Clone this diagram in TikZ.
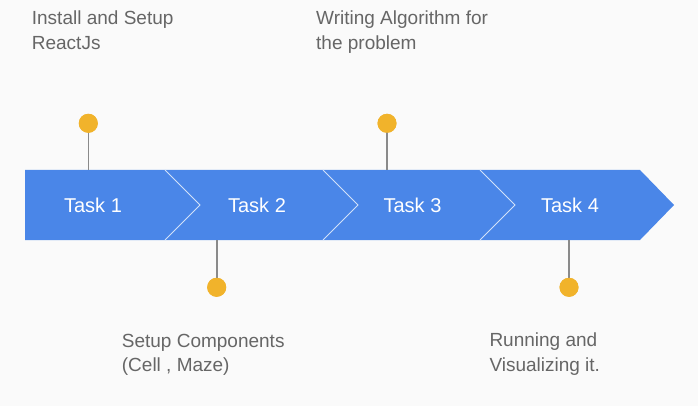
\documentclass[tikz,border=0pt]{standalone}
\usepackage{fontspec}
\setmainfont{Liberation Sans}
\definecolor{bandblue}{HTML}{4A86E8}
\definecolor{dotyellow}{HTML}{F1B32B}
\definecolor{txtgray}{HTML}{666666}
\definecolor{stemgray}{HTML}{8A8A8A}
\definecolor{bg}{HTML}{FAFAFA}
\tikzset{
  tasklabel/.style={text=white, font=\fontsize{20}{24}\selectfont, inner sep=0pt},
  desc/.style={text=txtgray, font=\fontsize{19}{24.5}\selectfont, align=left, inner sep=0pt, anchor=base west},
  dot/.style={circle, fill=dotyellow, minimum size=19pt, inner sep=0pt},
  stem/.style={draw=stemgray, line width=1.6pt},
  seam/.style={draw=white!75!bandblue, line width=0.9pt},
}
\begin{document}
\begin{tikzpicture}[x=1pt,y=-1pt]
\fill[bg] (0,0) rectangle (698,406);
\useasboundingbox (0,0) rectangle (698,406);
% band
\fill[bandblue] (25,170) -- (640,170) -- (674,205) -- (640,240) -- (25,240) -- cycle;
\draw[seam] (165,170) -- (200,205) -- (165,240);
\draw[seam] (323,170) -- (358,205) -- (323,240);
\draw[seam] (480,170) -- (515,205) -- (480,240);
% task labels
\node[tasklabel] (t1) at (93,205) {Task 1};
\node[tasklabel] (t2) at (257,205) {Task 2};
\node[tasklabel] (t3) at (412.5,205) {Task 3};
\node[tasklabel] (t4) at (570,205) {Task 4};
% anchor points on band
\coordinate (b1) at (88.3,170);
\coordinate (b2) at (216.7,240);
\coordinate (b3) at (387,170);
\coordinate (b4) at (569,240);
% dots
\node[dot] (d1) at (88.3,123.3) {};
\node[dot] (d2) at (216.7,287.3) {};
\node[dot] (d3) at (387,123.3) {};
\node[dot] (d4) at (569,287.3) {};
\draw[stem] (d1.center) -- (b1);
\draw[stem] (d2.center) -- (b2);
\draw[stem] (d3.center) -- (b3);
\draw[stem] (d4.center) -- (b4);
\node[dot] at (d1) {};
\node[dot] at (d2) {};
\node[dot] at (d3) {};
\node[dot] at (d4) {};
% descriptions (anchor = baseline of last line)
\node[desc] (x1) at (31.7,49.4) {Install and Setup\\ReactJs};
\node[desc] (x3) at (316,49.4) {Writing Algorithm for\\the problem};
\node[desc] (x2) at (121.7,371.5) {Setup Components\\(Cell , Maze)};
\node[desc] (x4) at (489.3,371.3) {Running and\\Visualizing it.};
\end{tikzpicture}
\end{document}
